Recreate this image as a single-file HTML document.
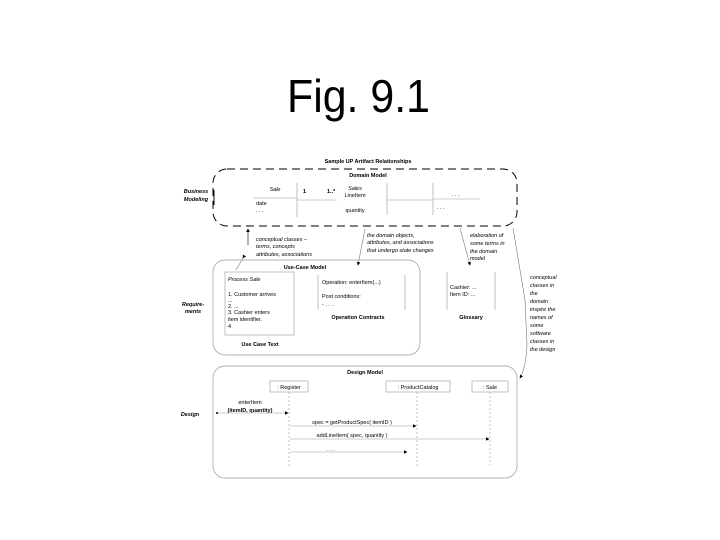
<!DOCTYPE html>
<html><head><style>body{margin:0;background:#fff}svg{display:block}</style></head><body>
<svg width="720" height="540" xmlns="http://www.w3.org/2000/svg" font-family="Liberation Sans, sans-serif">
<defs><marker id="a" markerWidth="6" markerHeight="6" refX="5" refY="3" orient="auto"><path d="M0,0L6,3L0,6z" fill="#000"/></marker></defs>
<text x="287" y="112" font-size="46" textLength="143" lengthAdjust="spacingAndGlyphs">Fig. 9.1</text>
<g font-size="5.5" fill="#000">
<text x="368" y="163" text-anchor="middle" font-weight="bold">Sample UP Artifact Relationships</text>
<rect x="213" y="169" width="304" height="57" rx="14" fill="none" stroke="#000" stroke-dasharray="8,5" stroke-width="1"/>
<text x="368" y="177" text-anchor="middle" font-weight="bold">Domain Model</text>
<text x="196" y="193" text-anchor="middle" font-weight="bold" font-style="italic">Business</text>
<text x="196" y="201" text-anchor="middle" font-weight="bold" font-style="italic">Modeling</text>
<line x1="214" y1="190" x2="214" y2="205" stroke="#000"/>
<g stroke="#999" stroke-width="0.6" fill="none">
<line x1="253" y1="198" x2="297" y2="198"/><line x1="297" y1="183" x2="297" y2="217"/>
<line x1="297" y1="200" x2="337" y2="200"/>
<line x1="387" y1="183" x2="387" y2="215"/><line x1="387" y1="200" x2="433" y2="200"/>
<line x1="433" y1="183" x2="433" y2="215"/><line x1="433" y1="199" x2="480" y2="199"/>
</g>
<text x="275" y="191" text-anchor="middle" font-style="italic">Sale</text>
<text x="256" y="205">date</text><text x="256" y="212">. . .</text>
<text x="303" y="193" font-weight="bold">1</text><text x="327" y="193" font-weight="bold">1..*</text>
<text x="355" y="190" text-anchor="middle" font-style="italic">Sales</text>
<text x="355" y="197" text-anchor="middle">LineItem</text>
<text x="355" y="212" text-anchor="middle">quantity</text>
<text x="452" y="196">. . .</text><text x="437" y="209">. . .</text>
<g font-style="italic">
<text x="256" y="241">conceptual classes –</text><text x="256" y="248">terms, concepts</text><text x="256" y="256">attributes, associations</text>
<text x="367" y="237">the domain objects,</text><text x="367" y="244">attributes, and associations</text><text x="367" y="252">that undergo state changes</text>
<text x="470" y="237">elaboration of</text><text x="470" y="245">some terms in</text><text x="470" y="253">the domain</text><text x="470" y="260">model</text>
<text x="530" y="279">conceptual</text><text x="530" y="287">classes in</text><text x="530" y="295">the</text><text x="530" y="303">domain</text><text x="530" y="311">inspire the</text><text x="530" y="319">names of</text><text x="530" y="327">some</text><text x="530" y="335">software</text><text x="530" y="343">classes in</text><text x="530" y="351">the design</text>
</g>
<g stroke="#777" stroke-width="0.6" fill="none">
<line x1="243" y1="258" x2="236" y2="270" marker-start="url(#a)"/>
<line x1="248" y1="245" x2="248" y2="229" stroke="#000" marker-end="url(#a)"/>
<line x1="365" y1="229" x2="358" y2="265" marker-end="url(#a)"/>
<line x1="460" y1="228" x2="470" y2="265" marker-end="url(#a)"/>
<path d="M513,228 L525,300 L527,345 Q526,368 520,378" marker-end="url(#a)"/>
</g>
<rect x="213" y="260" width="207" height="95" rx="12" fill="none" stroke="#999" stroke-width="0.7"/>
<text x="305" y="269" text-anchor="middle" font-weight="bold">Use-Case Model</text>
<rect x="225" y="272" width="69" height="63" fill="none" stroke="#999" stroke-width="0.6"/>
<text x="228" y="281" font-style="italic">Process Sale</text>
<text x="228" y="296">1. Customer arrives</text><text x="228" y="302">...</text><text x="228" y="308">2. ...</text>
<text x="228" y="314">3. Cashier enters</text><text x="228" y="321">item identifier.</text><text x="228" y="328">4</text>
<text x="260" y="346" text-anchor="middle" font-weight="bold">Use Case Text</text>
<line x1="318" y1="275" x2="318" y2="310" stroke="#999" stroke-width="0.6"/><line x1="405" y1="275" x2="405" y2="310" stroke="#999" stroke-width="0.6"/>
<text x="322" y="284">Operation: enterItem(...)</text><text x="322" y="298">Post conditions:</text><text x="322" y="306">- . . .</text>
<text x="358" y="319" text-anchor="middle" font-weight="bold">Operation Contracts</text>
<line x1="447" y1="272" x2="447" y2="310" stroke="#999" stroke-width="0.6"/><line x1="495" y1="272" x2="495" y2="310" stroke="#999" stroke-width="0.6"/>
<text x="450" y="289">Cashier: ...</text><text x="450" y="296">Item ID: ...</text>
<text x="471" y="319" text-anchor="middle" font-weight="bold">Glossary</text>
<text x="193" y="306" text-anchor="middle" font-weight="bold" font-style="italic">Require-</text>
<text x="193" y="313" text-anchor="middle" font-weight="bold" font-style="italic">ments</text>
<rect x="213" y="366" width="304" height="112" rx="12" fill="none" stroke="#999" stroke-width="0.7"/>
<text x="365" y="374" text-anchor="middle" font-weight="bold">Design Model</text>
<g stroke="#999" stroke-width="0.6" fill="none">
<rect x="270" y="381" width="38" height="11"/><rect x="386" y="381" width="64" height="11"/><rect x="472" y="381" width="36" height="11"/>
<g stroke-dasharray="2,2"><line x1="289" y1="392" x2="289" y2="467"/><line x1="417" y1="392" x2="417" y2="467"/><line x1="490" y1="392" x2="490" y2="465"/></g>
<line x1="217" y1="413" x2="288" y2="413" marker-end="url(#a)"/>
<line x1="290" y1="426" x2="416" y2="426" marker-end="url(#a)"/>
<line x1="290" y1="439" x2="489" y2="439" marker-end="url(#a)"/>
<line x1="290" y1="452" x2="407" y2="452" marker-end="url(#a)"/>
</g>
<circle cx="217" cy="413" r="1" fill="#000"/>
<text x="289" y="389" text-anchor="middle">: Register</text>
<text x="418" y="389" text-anchor="middle">: ProductCatalog</text>
<text x="490" y="389" text-anchor="middle">: Sale</text>
<text x="250" y="404" text-anchor="middle">enterItem</text>
<text x="250" y="412" text-anchor="middle" font-weight="bold">(itemID, quantity)</text>
<text x="190" y="416" text-anchor="middle" font-weight="bold" font-style="italic">Design</text>
<text x="352" y="424" text-anchor="middle">spec = getProductSpec( itemID )</text>
<text x="352" y="437" text-anchor="middle">addLineItem( spec, quantity )</text>
<text x="331" y="451" text-anchor="middle">. . .</text>
</g>
</svg>
</body></html>
